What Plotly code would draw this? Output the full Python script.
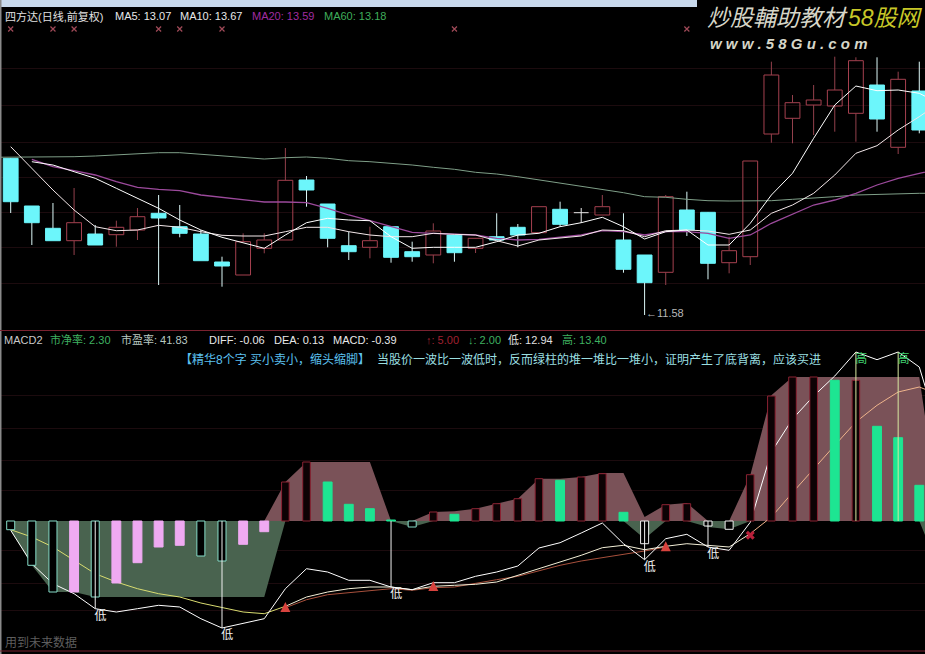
import plotly.graph_objects as go

# ---------- upper panel: candles (hidden price scale, chart units) ----------
candle_high = [172,124,127,142,105,109.3,122,135,125,100,73.3,96.7,96.7,182,154,126,98.3,103.3,104,88.3,106.7,96,
               92,116.7,106,123.3,128.3,122,135,116.7,75,135,138.3,118,93.3,169,268.3,235,245,273.3,272.7,272.7,258.3,268.3]
candle_top = [171.7,124,101.7,107.3,96,102.7,113.3,116.7,103.3,96,68,88.3,90,149.7,150,126,84.3,89.3,103.3,78.3,99,95,
              91.7,93.3,102.7,123.3,120.7,117.3,123.3,90,75,133.3,120,117.7,79.3,169,255,227.3,230,240,269.3,245,250.7,239]
candle_bottom = [128.3,107.3,89.3,89.3,85,95.3,100,112,96.7,69.3,64,55,81.7,90,140,91.7,78.3,82.7,72.7,73.3,75,77.3,
                 81.7,90,95,97.3,105.7,116.7,115,60.7,47.3,57.7,100,66.7,67.3,73.3,196,211.7,225,224,216.7,211,182.7,200]
candle_low = [117,85,89.3,75,85,83.3,90,45,92.7,69.3,43.3,55,76.7,90,123.3,82.7,70,71.7,67.3,68.3,66.7,68.3,
              77,90,82.7,97.3,103.3,107,115,57.3,15,45,94,50.7,56.7,65,187.3,186.7,195,198.3,188.3,198.3,176,196.7]
candle_up = [3,5,6,11,12,13,17,20,22,25,28,31,34,35,36,37,38,39,40,42]
candle_doji = [27]

ma_a = [183.3,161.7,140,120,103.3,99.3,100,104.7,102.7,98.3,94.7,94,94,98.3,102.7,102.7,98.3,95,93.3,93.3,96.7,95.7,
        95,89.3,84,90,91.7,94,100,99.3,93.3,99.3,100,99,95.7,100,116.7,125,136.7,155,176.7,184.3,200,213.3,228]
ma_b = [None,168.3,165,158.3,151.7,141.7,131.7,121.7,110,100,92.7,87.3,81.7,95,107.3,111.7,110,109.3,93.3,81.7,82.7,82.7,
        82.7,88.3,95,96.7,103.3,107.3,112.7,103.3,91,98.3,100,85,85,106.7,135,156.7,191.7,225,244,239.3,240,236.7,226]
ma20 = [None,170.7,163.3,159.3,155,148.3,142.7,140.7,139.3,135,132.7,130.7,128,128,127.3,121.7,115,109.3,103.3,97.7,96.7,96,
        95,91.7,90,90.7,92.7,95,99.3,98.3,95,98.3,98.3,96.7,91.7,95,106.7,116,125,130,136.7,145,151.7,156.7,161]
ma60 = [172.7,172.7,172.7,172.7,173.3,174,175,176.7,177.3,177.3,175.7,174.3,172.7,171,172.3,173,171.7,169.3,168.3,166.7,165,162.7,160.7,
        157.7,156,153.3,150,146.7,143.3,140.7,137.3,133.3,132.7,130.7,129.3,129,129,129.3,130.7,131.7,133.3,135,135.7,136.3,136.7,136.7]
flag_idx = [0,2,3,7,8,10,21,32]
flag_val = [301,301,301,301,301,301,301,301]

# ---------- lower panel ----------
macd_val = [-8.7,-44.3,-71,-71,-76,-62,-41.7,-26,-24.3,-35,-40,-23.3,-10.7,39,59,39,16.7,12.3,1,-6,9,6.7,
            12.3,17.3,22.3,42.3,40.7,44,47.3,8.7,-22.7,16.3,17.3,-5,-8.3,46.3,125,144,144,140.7,140.7,94.7,83.3,35.7]
macd_kind = ["h","h","h","p","h","p","p","p","p","h","h","p","p","r","r","g","g","g","g","h","r","g",
             "r","r","r","r","g","r","r","g","w","r","r","w","w","r","r","r","r","g","r","g","g","g"]
band_pos = [0,0,0,0,0,0,0,0,0,0,0,0,0,39,59,59,59,59,0,0,9,9.7,
            12.3,17.3,22.3,42.3,42.3,44,48,48,4,16.3,18,0,0,45.7,125.7,144,144,144,144,144,144,144,0]
band_neg = [-9.3,-44.3,-71,-71,-76,-76,-76,-76,-76,-76,-76,-76,-76,0,0,0,0,0,0,-6,0,0,
            0,0,0,0,0,0,0,0,-17.7,0,0,-6,-8.3,0,0,0,0,0,0,0,0,0,-52]
fast = [-9.3,-42.7,-62.7,-72.7,-87.7,-91,-87.7,-84.3,-86,-97.7,-107,-102,-97.7,-67.7,-47.7,-51,-59.3,-59.3,-66,-68.7,-61.7,-61.7,
        -55.3,-51,-45,-27,-21.7,-12,-2,-22.7,-38.7,-17.7,-13.3,-26,-29.3,-1.3,69,102,125,145,169,161.3,169,154,84]
slow = [-8.7,-16,-26,-39.3,-52.7,-61,-67.7,-72.7,-76,-82,-86.7,-91,-92.7,-85.3,-76,-71,-67.7,-66,-66,-68.7,-65.3,-64.3,
        -63.3,-61,-54.3,-47.7,-41,-34.3,-26.7,-24.3,-28.7,-25.3,-22.7,-24.3,-26,-12.7,4,28.3,52.3,75.7,99,115.7,129,134,125.7]
mav_idx = list(range(13, 32))
mav = [-86.7,-78.7,-73.7,-71.7,-69.3,-67.7,-69.3,-66.7,-66,-62,-58.7,-55.3,-50,-44.3,-40,-36.7,-33.3,-30,-26]
low_idx = [4,10,18,30,33]
high_idx = [40,42]
arrow_idx = [13,20,31]
arrow_val = [-81,-60,-20.3]
cross_idx = [35]
cross_val = [-14.3]

# ---------- texts ----------
header_top = [("四方达(日线,前复权)",3,"#e0e0e0"),("MA5: 13.07",113,"#e8e8e8"),("MA10: 13.67",178,"#e8e8e8"),
              ("MA20: 13.59",250,"#a02ca0"),("MA60: 13.18",322,"#3fae5a")]
header_low = [("MACD2",2,"#c8c8c8"),("市净率: 2.30",48,"#3fb060"),("市盈率: 41.83",119,"#b8c8c0"),
              ("DIFF: -0.06",207,"#e8e8e8"),("DEA: 0.13",272,"#e8e8e8"),("MACD: -0.39",331,"#e8e8e8"),
              ("↑: 5.00",424,"#a02030"),("↓: 2.00",466,"#3fb060"),("低: 12.94",506,"#e0e0e0"),("高: 13.40",560,"#3fb060")]
note_a = "【精华8个字 买小卖小，缩头缩脚】"
note_b = "当股价一波比一波低时，反而绿柱的堆一堆比一堆小，证明产生了底背离，应该买进"
bottom_note = "用到未来数据"
low_note = "←11.58"
wm_white = "炒股輔助教材"
wm_yellow = "58股网"
wm_url = "w w w . 5 8 G u . c o m"

W, H = 925, 654
FONT = "Liberation Sans, Noto Sans CJK SC, sans-serif"
N = len(candle_high)
idx = list(range(N))
ext = list(range(N + 1))
fig = go.Figure()

def wick_xy(ids):
    xs, ys = [], []
    for i in ids:
        xs += [i, i, None, i, i, None]
        ys += [candle_high[i], candle_top[i], None, candle_bottom[i], candle_low[i], None]
    return xs, ys

dn = [i for i in idx if i not in candle_up and i not in candle_doji]

# candle bodies and wicks
fig.add_trace(go.Bar(x=dn, base=[candle_bottom[i] for i in dn], y=[candle_top[i]-candle_bottom[i] for i in dn],
                     width=0.7, marker=dict(color="#6cf6fb", line=dict(color="#6cf6fb", width=1)), xaxis="x", yaxis="y"))
fig.add_trace(go.Bar(x=candle_up, base=[candle_bottom[i] for i in candle_up], y=[candle_top[i]-candle_bottom[i] for i in candle_up],
                     width=0.7, marker=dict(color="rgba(0,0,0,0)", line=dict(color="#a5404f", width=1)), xaxis="x", yaxis="y"))
xs, ys = wick_xy(candle_up)
fig.add_trace(go.Scatter(x=xs, y=ys, mode="lines", line=dict(color="#93404c", width=1), xaxis="x", yaxis="y"))
xs, ys = wick_xy(dn)
fig.add_trace(go.Scatter(x=xs, y=ys, mode="lines", line=dict(color="#dcf8f8", width=1), xaxis="x", yaxis="y"))
for i in candle_doji:
    fig.add_trace(go.Scatter(x=[i, i, None, i-0.35, i+0.35], y=[candle_high[i], candle_low[i], None, candle_top[i], candle_top[i]],
                             mode="lines", line=dict(color="#e8e8e8", width=1), xaxis="x", yaxis="y"))

# moving averages
fig.add_trace(go.Scatter(x=list(range(-1, N + 1)), y=ma60, mode="lines", line=dict(color="#7f9f88", width=1), xaxis="x", yaxis="y"))
fig.add_trace(go.Scatter(x=ext, y=ma20, mode="lines", line=dict(color="#9c4a9c", width=1.3), xaxis="x", yaxis="y", connectgaps=False))
fig.add_trace(go.Scatter(x=ext, y=ma_a, mode="lines", line=dict(color="#f4e8ea", width=1), xaxis="x", yaxis="y"))
fig.add_trace(go.Scatter(x=ext, y=ma_b, mode="lines", line=dict(color="#ffffff", width=1), xaxis="x", yaxis="y"))
fig.add_trace(go.Scatter(x=flag_idx, y=flag_val, mode="markers", marker=dict(symbol="x-thin", size=5, line=dict(color="#a04a58", width=1.2)),
                         xaxis="x", yaxis="y"))

# lower panel: bands and lines (under the histogram)
fig.add_trace(go.Scatter(x=ext, y=band_neg, mode="lines", line=dict(color="rgba(0,0,0,0)", width=0), fill="tozeroy",
                         fillcolor="#49634f", xaxis="x", yaxis="y2"))
fig.add_trace(go.Scatter(x=ext, y=band_pos, mode="lines", line=dict(color="rgba(0,0,0,0)", width=0), fill="tozeroy",
                         fillcolor="#7a5258", xaxis="x", yaxis="y2"))
fig.add_trace(go.Scatter(x=mav_idx, y=mav, mode="lines", line=dict(color="#a8503c", width=1), xaxis="x", yaxis="y2"))
fig.add_trace(go.Scatter(x=ext[:14], y=slow[:14], mode="lines", line=dict(color="#d9dc70", width=1), xaxis="x", yaxis="y2"))
fig.add_trace(go.Scatter(x=ext[13:36], y=slow[13:36], mode="lines", line=dict(color="#f4f0d8", width=1), xaxis="x", yaxis="y2"))
fig.add_trace(go.Scatter(x=ext[35:], y=slow[35:], mode="lines", line=dict(color="#efb48c", width=1), xaxis="x", yaxis="y2"))
fig.add_trace(go.Scatter(x=ext, y=fast, mode="lines", line=dict(color="#ffffff", width=1), xaxis="x", yaxis="y2"))

# histogram on an overlaid axis so that it covers the lines
FILL = {"h": "#000000", "w": "#000000", "p": "#efaaf2", "r": "#0c0204", "g": "#1de592"}
EDGE = {"h": "#86dcc8", "w": "#f0f0f0", "p": "#efaaf2", "r": "#8a2232", "g": "#1de592"}
WID = {"h": 0.38, "w": 0.38, "p": 0.42, "r": 0.36, "g": 0.42}
fig.add_trace(go.Bar(x=idx, y=macd_val, width=[WID[k] for k in macd_kind],
                     marker=dict(color=[FILL[k] for k in macd_kind],
                                 line=dict(color=[EDGE[k] for k in macd_kind], width=1)),
                     xaxis="x", yaxis="y3"))

# signal stems, labels and arrows on top
xs, ys = [], []
for i in low_idx:
    xs += [i, i, None]
    ys += [0, fast[i], None]
fig.add_trace(go.Scatter(x=xs, y=ys, mode="lines", line=dict(color="#f0f0f0", width=1), xaxis="x", yaxis="y3"))
xs, ys = [], []
for i in high_idx:
    xs += [i, i, None]
    ys += [0, fast[i], None]
fig.add_trace(go.Scatter(x=xs, y=ys, mode="lines", line=dict(color="#d8e8a0", width=1), xaxis="x", yaxis="y3"))
fig.add_trace(go.Scatter(x=[i+0.25 for i in low_idx], y=[fast[i]-8 for i in low_idx], mode="text", text=["低"]*len(low_idx),
                         textfont=dict(color="#f0f0f0", size=12, family=FONT), xaxis="x", yaxis="y3"))
fig.add_trace(go.Scatter(x=[i+0.25 for i in high_idx], y=[fast[i]-8 for i in high_idx], mode="text", text=["高"]*len(high_idx),
                         textfont=dict(color="#40d070", size=12, family=FONT), xaxis="x", yaxis="y3"))
fig.add_trace(go.Scatter(x=arrow_idx, y=arrow_val, mode="markers", marker=dict(symbol="arrow-up", size=10, color="#d8433e", line=dict(width=0)),
                         xaxis="x", yaxis="y3"))
fig.add_trace(go.Scatter(x=cross_idx, y=cross_val, mode="markers", marker=dict(symbol="x", size=8, color="#b8203a", line=dict(width=0)),
                         xaxis="x", yaxis="y3"))

# text
ann = []
def put(text, x, y, color, size=11, **kw):
    ann.append(dict(text=text, x=x/W, y=1-y/H, xref="paper", yref="paper", xanchor="left", yanchor="middle",
                    showarrow=False, font=dict(color=color, size=size, family=FONT), **kw))
for t, x, c in header_top:
    put(t, x, 16, c)
for t, x, c in header_low:
    put(t, x, 340, c)
put(note_a, 178, 359, "#5cc0f0", 12)
put(note_b, 375, 359, "#9adfe0", 12)
put(bottom_note, 3, 642, "#5e5e5e", 12)
put(low_note, 644, 313, "#b8b8b8", 11)
put("<i>" + wm_white + "</i>", 705, 18, "#d6d6c8", 23)
put("<i>" + wm_yellow + "</i>", 846, 18, "#c8c828", 23)
put("<i><b>" + wm_url + "</b></i>", 708, 44, "#d6d6c8", 15)

# frame
R = "#7a2230"
shapes = [
    dict(type="rect", xref="paper", yref="paper", x0=0, x1=697/W, y0=1-7/H, y1=1, fillcolor="#c8d9ec", line=dict(width=0)),
    dict(type="rect", xref="paper", yref="paper", x0=0, x1=1.5/W, y0=0, y1=1, fillcolor="#8a8a8a", line=dict(width=0)),
    dict(type="line", xref="paper", yref="paper", x0=0, x1=1, y0=1-330.5/H, y1=1-330.5/H, line=dict(color=R, width=1)),
    dict(type="line", xref="paper", yref="paper", x0=0, x1=1, y0=1-651/H, y1=1-651/H, line=dict(color=R, width=1)),
]

SPLIT = 324/H
fig.update_layout(
    width=W, height=H, margin=dict(l=0, r=0, t=0, b=0), paper_bgcolor="#000000", plot_bgcolor="#000000",
    showlegend=False, barmode="overlay", annotations=ann, shapes=shapes,
    xaxis=dict(range=[-10.7/21.13, (W-10.7)/21.13], visible=False, domain=[0, 1], fixedrange=True),
    yaxis=dict(domain=[SPLIT, 1], range=[0, 330], showline=False, zeroline=False, showticklabels=False, ticks="",
               tickvals=[262,225,188,153,118,83,47], gridcolor="#1c0b0e", gridwidth=1),
    yaxis2=dict(domain=[0, SPLIT], range=[-133, 191], showline=False, zeroline=False, showticklabels=False, ticks="",
                tickvals=[126,93,61,31,-29,-62,-89], gridcolor="#1c0b0e", gridwidth=1),
    yaxis3=dict(overlaying="y2", range=[-133, 191], visible=False, showgrid=False, zeroline=False),
)
fig.write_html("out.html", config={"displayModeBar": False},
               post_script="document.body.style.margin='0';document.body.style.background='#000';document.documentElement.style.overflow='hidden';")
